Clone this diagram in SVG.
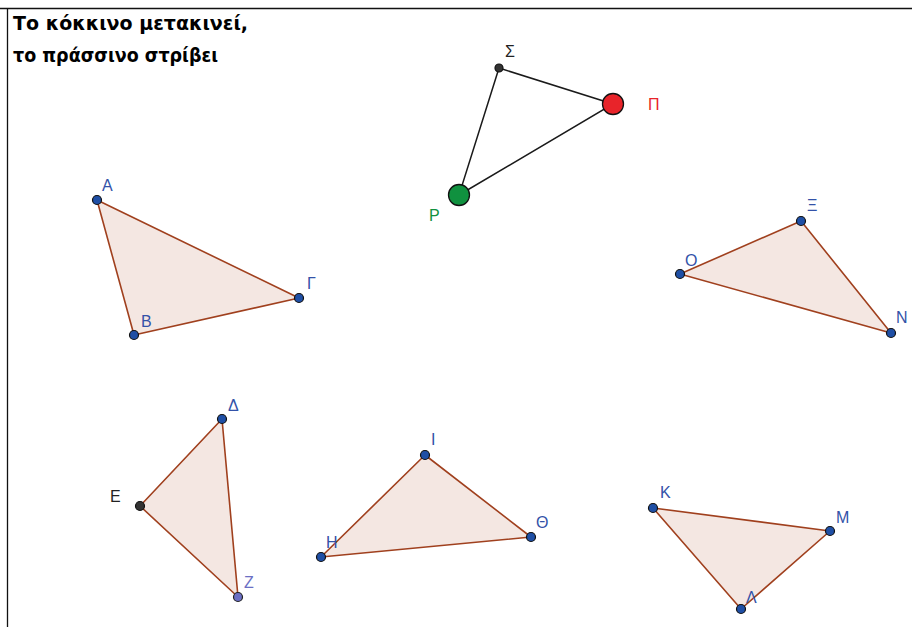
<svg xmlns="http://www.w3.org/2000/svg" width="912" height="627" viewBox="0 0 912 627">
<style>
.tri{fill:#f4e7e2;stroke:#a0401e;stroke-width:1.6;stroke-linejoin:round}
.seg{stroke:#1a1a1a;stroke-width:1.5;fill:none}
.pt{fill:#1f4fa5;stroke:#111;stroke-width:1.2}
.ptk{fill:#333;stroke:#111;stroke-width:1.2}
.ptz{fill:#6b6fc4;stroke:#222;stroke-width:1.2}
.lb{font-family:"Liberation Sans",Arial,sans-serif;font-size:16px;fill:#3352a8}
.lk{font-family:"Liberation Sans",Arial,sans-serif;font-size:16px;fill:#222}
.title{font-family:"DejaVu Sans","Liberation Sans",sans-serif;font-size:19px;font-weight:bold;fill:#000}
</style>
<rect x="0" y="0" width="912" height="627" fill="#fff"/>
<line x1="0" y1="8.5" x2="912" y2="8.5" stroke="#111" stroke-width="1.3"/>
<line x1="7.5" y1="8" x2="7.5" y2="627" stroke="#111" stroke-width="1.3"/>
<g id="title">
<text class="title" x="13" y="30" textLength="235" lengthAdjust="spacingAndGlyphs">Το κόκκινο μετακινεί,</text>
<text class="title" x="13" y="62" textLength="205" lengthAdjust="spacingAndGlyphs">το πράσσινο στρίβει</text>
</g>
<g id="connectors">
<polyline class="seg" points="499,68 613,104 459,195 499,68"/>
</g>
<g id="node-S"><circle cx="499" cy="68" r="4" class="ptk"/><text class="lk" x="505" y="57">Σ</text></g>
<g id="node-P"><circle cx="613" cy="104" r="10.5" fill="#e8242a" stroke="#111" stroke-width="1.3"/><text x="648" y="110" font-family="Liberation Sans,Arial,sans-serif" font-size="16" fill="#e8242a">Π</text></g>
<g id="node-R"><circle cx="459" cy="195" r="10.5" fill="#10913f" stroke="#111" stroke-width="1.3"/><text x="429" y="221" font-family="Liberation Sans,Arial,sans-serif" font-size="16" fill="#10913f">Ρ</text></g>
<g id="tri-ABG">
<polygon class="tri" points="97,200 299,298 134,335"/>
<circle class="pt" cx="97" cy="200" r="4.5"/><circle class="pt" cx="299" cy="298" r="4.5"/><circle class="pt" cx="134" cy="335" r="4.5"/>
<text class="lb" x="102" y="191">Α</text><text class="lb" x="307" y="289">Γ</text><text class="lb" x="141" y="327">Β</text>
</g>
<g id="tri-XON">
<polygon class="tri" points="801,221 891,333 680,274"/>
<circle class="pt" cx="801" cy="221" r="4.5"/><circle class="pt" cx="891" cy="333" r="4.5"/><circle class="pt" cx="680" cy="274" r="4.5"/>
<text class="lb" x="807" y="211">Ξ</text><text class="lb" x="685" y="266">Ο</text><text class="lb" x="896" y="323">Ν</text>
</g>
<g id="tri-DEZ">
<polygon class="tri" points="222,419 238,597 140,506"/>
<circle class="pt" cx="222" cy="419" r="4.5"/><circle class="ptk" cx="140" cy="506" r="4.5"/><circle class="ptz" cx="238" cy="597" r="4.5"/>
<text class="lb" x="228" y="411">Δ</text><text class="lk" x="110" y="502">Ε</text><text x="244" y="588" font-family="Liberation Sans,Arial,sans-serif" font-size="16" fill="#6b6fc4">Ζ</text>
</g>
<g id="tri-IHT">
<polygon class="tri" points="425,455 531,537 321,557"/>
<circle class="pt" cx="425" cy="455" r="4.5"/><circle class="pt" cx="531" cy="537" r="4.5"/><circle class="pt" cx="321" cy="557" r="4.5"/>
<text class="lb" x="431" y="445">Ι</text><text class="lb" x="536" y="528">Θ</text><text class="lb" x="326" y="548">Η</text>
</g>
<g id="tri-KML">
<polygon class="tri" points="653,508 830,531 741,609"/>
<circle class="pt" cx="653" cy="508" r="4.5"/><circle class="pt" cx="830" cy="531" r="4.5"/><circle class="pt" cx="741" cy="609" r="4.5"/>
<text class="lb" x="660" y="498">Κ</text><text class="lb" x="836" y="523">Μ</text><text class="lb" x="746" y="603">Λ</text>
</g>
</svg>
